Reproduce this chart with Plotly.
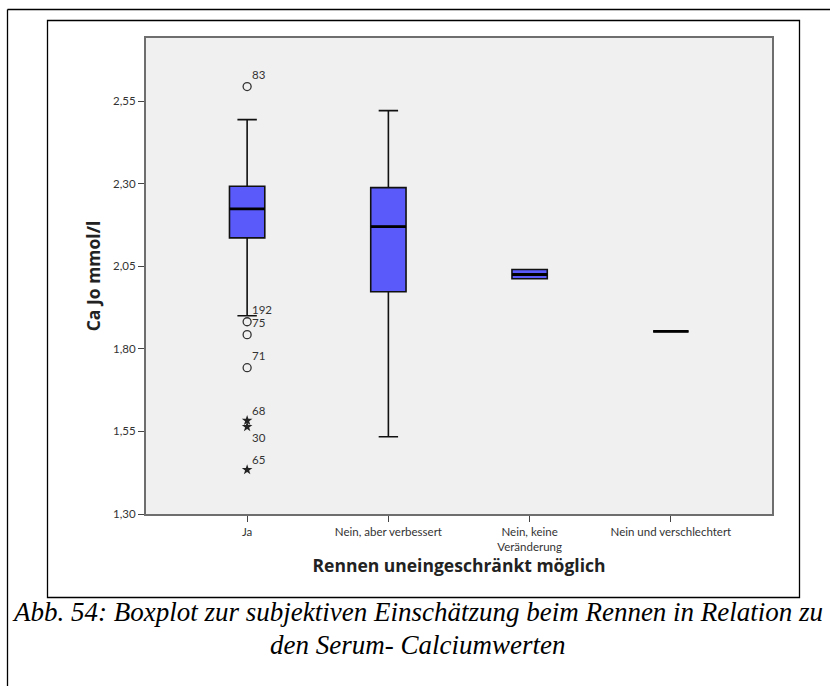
import plotly.graph_objects as go

# Category labels (x axis) and box statistics for Ca Jo mmol/l
categories = ["Ja", "Nein, aber verbessert", "Nein, keine<br>Veränderung", "Nein und verschlechtert"]
q1 = [2.136, 1.973, 2.012, 1.853]
median = [2.224, 2.170, 2.025, 1.853]
q3 = [2.292, 2.288, 2.040, 1.853]
lower_whisker = [1.900, 1.534, 2.012, 1.853]
upper_whisker = [2.494, 2.521, 2.040, 1.853]

# Outliers (circles) and extreme values (stars) in group "Ja"
outlier_ids = ["83", "192", "75", "71"]
outlier_vals = [2.594, 1.882, 1.843, 1.743]
extreme_ids = ["68", "30", "65"]
extreme_vals = [1.583, 1.564, 1.434]
extreme_label_below = [False, True, False]

# y axis ticks
y_ticks = [1.30, 1.55, 1.80, 2.05, 2.30, 2.55]
y_ticktext = ["1,30", "1,55", "1,80", "2,05", "2,30", "2,55"]
y_range = [1.30, 2.741]

W, H = 830, 686
L, R, T, B = 146, 772, 38, 514
BOX_W = 0.25
BOX_FILL = "#5a5afa"

xpos = list(range(len(categories)))

fig = go.Figure()
for i, cat in enumerate(categories):
    fig.add_trace(go.Box(
        x=[xpos[i]], q1=[q1[i]], median=[median[i]], q3=[q3[i]],
        lowerfence=[lower_whisker[i]], upperfence=[upper_whisker[i]],
        boxpoints=False, width=BOX_W, whiskerwidth=0.55,
        fillcolor=BOX_FILL, line=dict(color="#111111", width=1.6),
        showlegend=False, hoverinfo="skip",
    ))

fig.add_trace(go.Scatter(
    x=[xpos[0]] * len(outlier_vals), y=outlier_vals, mode="markers",
    marker=dict(symbol="circle-open", size=8, color="#333333", line=dict(width=1.3, color="#333333")),
    showlegend=False, hoverinfo="skip",
))
fig.add_trace(go.Scatter(
    x=[xpos[0]] * len(extreme_vals), y=extreme_vals, mode="markers",
    marker=dict(symbol="star", size=8, color="#222222"),
    showlegend=False, hoverinfo="skip",
))

shapes = []
# thicker median lines
for i in range(len(categories)):
    shapes.append(dict(type="line", xref="x", yref="y",
                       x0=xpos[i] - BOX_W / 2, x1=xpos[i] + BOX_W / 2,
                       y0=median[i], y1=median[i],
                       line=dict(color="#000000", width=2.8), layer="above"))


def px_x(p):
    return (p - L) / (R - L)


def px_y(p):
    return (B - p) / (B - T)


# figure frame and page lines
shapes.append(dict(type="rect", xref="paper", yref="paper",
                   x0=px_x(47.5), x1=px_x(799.5), y0=px_y(597.5), y1=px_y(20.5),
                   line=dict(color="#000000", width=1.3)))
shapes.append(dict(type="line", xref="paper", yref="paper",
                   x0=px_x(7.5), x1=px_x(830), y0=px_y(9.5), y1=px_y(9.5),
                   line=dict(color="#000000", width=1.3)))
shapes.append(dict(type="line", xref="paper", yref="paper",
                   x0=px_x(7.5), x1=px_x(7.5), y0=px_y(9.5), y1=px_y(686),
                   line=dict(color="#000000", width=1.3)))

annotations = []
label_font = dict(family="Lato, DejaVu Sans, sans-serif", size=11.5, color="#333333")
for lab, v in zip(outlier_ids, outlier_vals):
    annotations.append(dict(x=xpos[0], y=v, xref="x", yref="y", text=lab, showarrow=False,
                            xanchor="left", yanchor="middle", xshift=3, yshift=12, font=label_font))
for lab, v, below in zip(extreme_ids, extreme_vals, extreme_label_below):
    annotations.append(dict(x=xpos[0], y=v, xref="x", yref="y", text=lab, showarrow=False,
                            xanchor="left", yanchor="middle", xshift=3, yshift=-11 if below else 10,
                            font=label_font))

# caption below the chart
cap_font = dict(family="Liberation Serif, Times New Roman, serif", size=27, color="#000000")
annotations.append(dict(xref="paper", yref="paper", x=px_x(417), y=px_y(612),
                        text="<i>Abb. 54: Boxplot zur subjektiven Einschätzung beim Rennen in Relation zu</i>",
                        showarrow=False, xanchor="center", yanchor="middle", font=cap_font))
annotations.append(dict(xref="paper", yref="paper", x=px_x(417), y=px_y(645),
                        text="<i>den Serum- Calciumwerten</i>",
                        showarrow=False, xanchor="center", yanchor="middle", font=cap_font))

title_font = dict(family="Open Sans, DejaVu Sans, sans-serif", size=17.5, color="#222222")
tick_font = dict(family="Lato, DejaVu Sans, sans-serif", size=11.5, color="#333333")

fig.update_layout(
    width=W, height=H,
    margin=dict(l=L, r=W - R, t=T, b=H - B),
    paper_bgcolor="#ffffff", plot_bgcolor="#f0f0f0",
    shapes=shapes, annotations=annotations,
    xaxis=dict(
        range=[-0.716, 3.716], tickvals=xpos, ticktext=categories,
        ticks="outside", ticklen=6, tickwidth=1.3, tickcolor="#444444",
        showline=True, linecolor="#6e6e6e", linewidth=2, mirror=True,
        showgrid=False, zeroline=False, tickfont=tick_font,
        title=dict(text="<b>Rennen uneingeschränkt möglich</b>", standoff=8, font=title_font),
    ),
    yaxis=dict(
        range=y_range, tickvals=y_ticks, ticktext=y_ticktext,
        ticks="outside", ticklen=6, tickwidth=1.3, tickcolor="#444444",
        showline=True, linecolor="#6e6e6e", linewidth=2, mirror=True,
        showgrid=False, zeroline=False, tickfont=tick_font,
        title=dict(text="<b>Ca Jo mmol/l</b>", standoff=8, font=title_font),
    ),
)

fig.write_html("out.html")
